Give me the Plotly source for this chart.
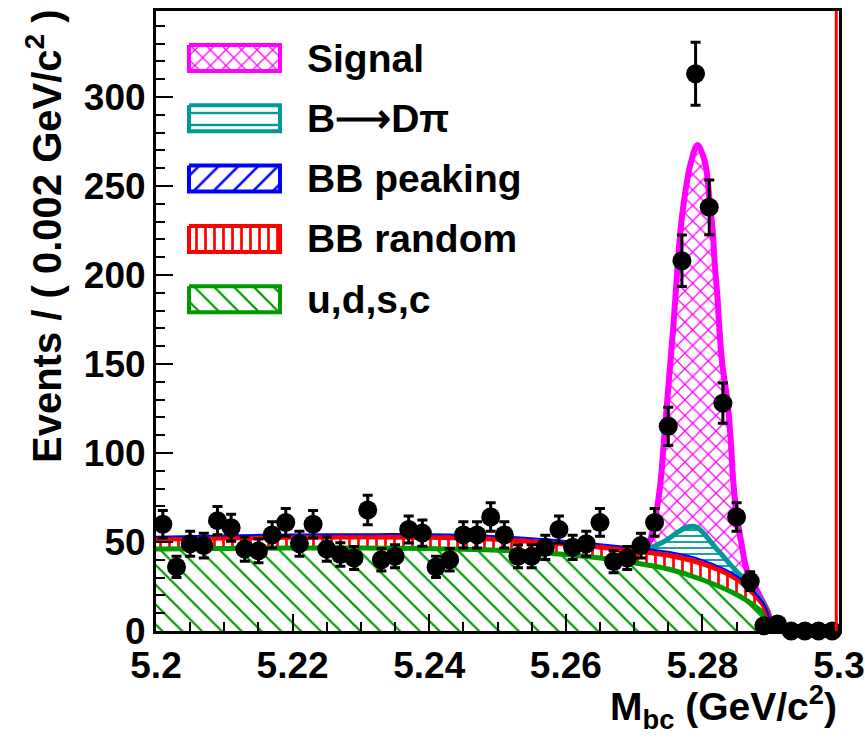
import math
import plotly.graph_objects as go

# ---------------------------------------------------------------- data
# M_bc histogram: 50 bins of 0.002 GeV/c^2 starting at 5.2
BIN_LOW = 5.2
BIN_WIDTH = 0.002
events = [60, 36, 49, 48, 62, 58, 46, 45, 54, 61,
          49, 60, 46, 43, 41, 68, 40, 42, 57, 55,
          36, 40, 54, 54, 64, 54, 42, 42, 47, 57,
          47, 49, 61, 39, 41, 48, 61, 115, 208, 313,
          238, 128, 64, 28, 3, 4, 0, 0, 0, 0]
bin_centres = [BIN_LOW + BIN_WIDTH * (i + 0.5) for i in range(len(events))]
event_errors = [math.sqrt(n) for n in events]

# stacked fit components, cumulative heights (events / 0.002 GeV/c^2)
bkg_mass = [5.200, 5.210, 5.220, 5.230, 5.240, 5.250, 5.260, 5.265,
            5.270, 5.275, 5.280, 5.285, 5.2875, 5.2890, 5.2897, 5.2900]
udsc_top = [46.0, 46.4, 46.6, 46.6, 46.3, 45.4, 43.0, 41.0,
            38.3, 34.8, 28.8, 20.5, 14.5, 9.5, 5.0, 0.0]
bb_random_top = [51.5, 52.2, 52.7, 52.8, 52.6, 51.5, 48.8, 47.0,
                 45.0, 42.6, 37.8, 29.3, 21.0, 14.0, 8.0, 0.0]
bb_peaking_top = [53.0, 53.7, 54.2, 54.4, 54.3, 53.2, 50.6, 48.8,
                  46.7, 44.5, 39.8, 31.0, 22.2, 15.0, 8.6, 0.0]

dpi_mass = [5.200, 5.220, 5.240, 5.260, 5.270, 5.2720, 5.2745, 5.2765,
            5.2779, 5.2792, 5.2804, 5.2818, 5.2833, 5.2848, 5.2860,
            5.2875, 5.2890, 5.2897, 5.2900]
dpi_top = [53.0, 54.2, 54.3, 50.6, 46.7, 46.2, 50.5, 55.8,
           58.6, 58.3, 53.9, 47.4, 40.8, 34.3, 29.5,
           22.6, 15.3, 8.8, 0.0]

total_mass = [5.200, 5.220, 5.240, 5.260, 5.270, 5.2716, 5.2723, 5.2728,
              5.2734, 5.2739, 5.2743, 5.2747, 5.2751, 5.2757, 5.2764,
              5.2768, 5.2774, 5.2783, 5.2793, 5.2804, 5.2810, 5.2815,
              5.2818, 5.2822, 5.2825, 5.2829, 5.2837, 5.2842, 5.2845,
              5.2850, 5.2858, 5.2865, 5.2877, 5.2889, 5.2897, 5.2900]
total_top = [53.0, 54.2, 54.3, 50.6, 46.8, 47.0, 50.5, 58.5,
             70.0, 85.0, 103.5, 122.5, 141.0, 169.0, 206.6,
             225.3, 244.0, 263.0, 273.0, 263.0, 244.0, 225.3,
             206.6, 187.8, 169.1, 150.4, 128.0, 104.0, 85.0,
             66.0, 47.4, 34.3, 24.9, 16.0, 9.5, 0.0]

x_tick_vals = [5.2, 5.22, 5.24, 5.26, 5.28, 5.3]
x_tick_text = ["5.2", "5.22", "5.24", "5.26", "5.28", "5.3"]
y_tick_vals = [0, 50, 100, 150, 200, 250, 300]
y_tick_text = ["0", "50", "100", "150", "200", "250", "300"]

legend_labels = ["Signal", "B⟶Dπ", "BB peaking", "BB random", "u,d,s,c"]

# ---------------------------------------------------------------- style
MAGENTA = "#ff00ff"
TEAL = "#009999"
BLUE = "#0000ff"
RED = "#ff0000"
GREEN = "#009a00"
FONT = "Liberation Sans, Arial, sans-serif"

legend_colors = [MAGENTA, TEAL, BLUE, RED, GREEN]
legend_patterns = [
    dict(shape="x", size=11, solidity=0.22),
    dict(shape="-", size=12, solidity=0.2),
    dict(shape="/", size=14, solidity=0.18),
    dict(shape="|", size=9, solidity=0.3),
    dict(shape="\\", size=14, solidity=0.16),
]

# page geometry of the plotting frame (pixels)
FRAME_L, FRAME_R, FRAME_T, FRAME_B = 156, 839, 11, 631
W, H = 865, 740
Y_MAX = 348.3


def paper_x(px):
    return (px - FRAME_L) / (FRAME_R - FRAME_L)


def paper_y(py):
    return (FRAME_B - py) / (FRAME_B - FRAME_T)


fig = go.Figure()

# --- hatched fills, bottom to top
fill_specs = [
    (bkg_mass, udsc_top, GREEN, dict(shape="\\", size=14, solidity=0.16), "tozeroy"),
    (bkg_mass, bb_random_top, RED, dict(shape="|", size=9, solidity=0.3), "tonexty"),
    (bkg_mass, bb_peaking_top, BLUE, dict(shape="/", size=10, solidity=0.2), "tonexty"),
    (dpi_mass, dpi_top, TEAL, dict(shape="-", size=6, solidity=0.3), "tonexty"),
    (total_mass, total_top, MAGENTA, dict(shape="x", size=11, solidity=0.22), "tonexty"),
]
for xs, ys, col, pat, mode in fill_specs:
    fig.add_trace(go.Scatter(
        x=xs, y=ys, mode="lines", fill=mode,
        line=dict(width=0, shape="spline", smoothing=1.0, color="rgba(0,0,0,0)"),
        fillcolor="rgba(255,255,255,0)",
        fillpattern=dict(fgcolor=col, bgcolor="rgba(255,255,255,0)", fillmode="replace", **pat),
        hoverinfo="skip", showlegend=False,
    ))

# --- component curves
PEAK_START = 5.2715
tot_sel = [i for i, m in enumerate(total_mass) if m >= PEAK_START]
dpi_sel = [i for i, m in enumerate(dpi_mass) if m >= PEAK_START]
line_specs = [
    ([total_mass[i] for i in tot_sel], [total_top[i] for i in tot_sel], MAGENTA, 6),
    ([dpi_mass[i] for i in dpi_sel], [dpi_top[i] for i in dpi_sel], TEAL, 5),
    (bkg_mass, udsc_top, GREEN, 5),
    (bkg_mass, bb_random_top, RED, 5),
    (bkg_mass, bb_peaking_top, BLUE, 2),
]
for xs, ys, col, wid in line_specs:
    fig.add_trace(go.Scatter(
        x=xs, y=ys, mode="lines",
        line=dict(color=col, width=wid, shape="spline", smoothing=1.0),
        hoverinfo="skip", showlegend=False,
    ))

# --- data points
fig.add_trace(go.Scatter(
    x=bin_centres, y=events, mode="markers",
    marker=dict(color="black", size=19, line=dict(width=0)),
    error_y=dict(type="data", array=event_errors, color="black", thickness=3, width=5),
    cliponaxis=False, showlegend=False,
))

# --- legend drawn on a pixel-unit overlay axis
BOX_X0, BOX_X1 = 189, 280
BOX_HALF = 13
LEGEND_Y0, LEGEND_DY = 58, 60.3
for i, (lab, col, pat) in enumerate(zip(legend_labels, legend_colors, legend_patterns)):
    yc = LEGEND_Y0 + LEGEND_DY * i
    fig.add_trace(go.Scatter(
        x=[BOX_X0, BOX_X1, BOX_X1, BOX_X0, BOX_X0],
        y=[yc - BOX_HALF, yc - BOX_HALF, yc + BOX_HALF, yc + BOX_HALF, yc - BOX_HALF],
        mode="lines", fill="toself",
        line=dict(color=col, width=4),
        fillcolor="rgba(255,255,255,0)",
        fillpattern=dict(fgcolor=col, bgcolor="white", fillmode="replace", **pat),
        xaxis="x2", yaxis="y2", hoverinfo="skip", showlegend=False,
    ))
    fig.add_annotation(
        x=305, y=yc, xref="x2", yref="y2", text=lab, showarrow=False,
        xanchor="left", yanchor="middle",
        font=dict(family=FONT, size=39, color="black", weight="bold"),
    )

# red vertical line at the upper edge of the mass range
fig.add_shape(type="line", xref="x", yref="paper", x0=5.2996, x1=5.2996, y0=0, y1=1,
              line=dict(color=RED, width=3))

# axis titles
fig.add_annotation(
    x=paper_x(44), y=paper_y(7), xref="paper", yref="paper",
    text="Events / ( 0.002 GeV/c<sup>2</sup> )", textangle=-90, showarrow=False,
    xanchor="center", yanchor="top",
    font=dict(family=FONT, size=40, color="black", weight="bold"),
)
fig.add_annotation(
    x=paper_x(839), y=paper_y(707), xref="paper", yref="paper",
    text="M<sub>bc</sub> (GeV/c<sup>2</sup>)", showarrow=False,
    xanchor="right", yanchor="middle",
    font=dict(family=FONT, size=39, color="black", weight="bold"),
)

tick_font = dict(family=FONT, size=37, color="black", weight="bold")
fig.update_layout(
    width=W, height=H,
    margin=dict(l=FRAME_L, r=W - FRAME_R, t=FRAME_T, b=H - FRAME_B, pad=0),
    paper_bgcolor="white", plot_bgcolor="white",
    showlegend=False,
    xaxis=dict(
        range=[5.2, 5.3], tickmode="array", tickvals=x_tick_vals, ticktext=x_tick_text,
        ticks="inside", ticklen=17, tickwidth=2, tickcolor="black",
        minor=dict(dtick=0.005, tick0=5.2, ticks="inside", ticklen=9, tickwidth=2, tickcolor="black"),
        showline=True, linewidth=3, linecolor="black", mirror=True,
        showgrid=False, zeroline=False, tickfont=tick_font, automargin=False,
    ),
    yaxis=dict(
        range=[0, Y_MAX], tickmode="array", tickvals=y_tick_vals, ticktext=y_tick_text,
        ticks="inside", ticklen=17, tickwidth=2, tickcolor="black",
        minor=dict(dtick=10, tick0=0, ticks="inside", ticklen=9, tickwidth=2, tickcolor="black"),
        showline=True, linewidth=3, linecolor="black", mirror=True,
        showgrid=False, zeroline=False, tickfont=tick_font, automargin=False,
    ),
    xaxis2=dict(overlaying="x", range=[FRAME_L, FRAME_R], visible=False, anchor="y2"),
    yaxis2=dict(overlaying="y", range=[FRAME_B, FRAME_T], visible=False, anchor="x2"),
)

fig.write_html("out.html")
